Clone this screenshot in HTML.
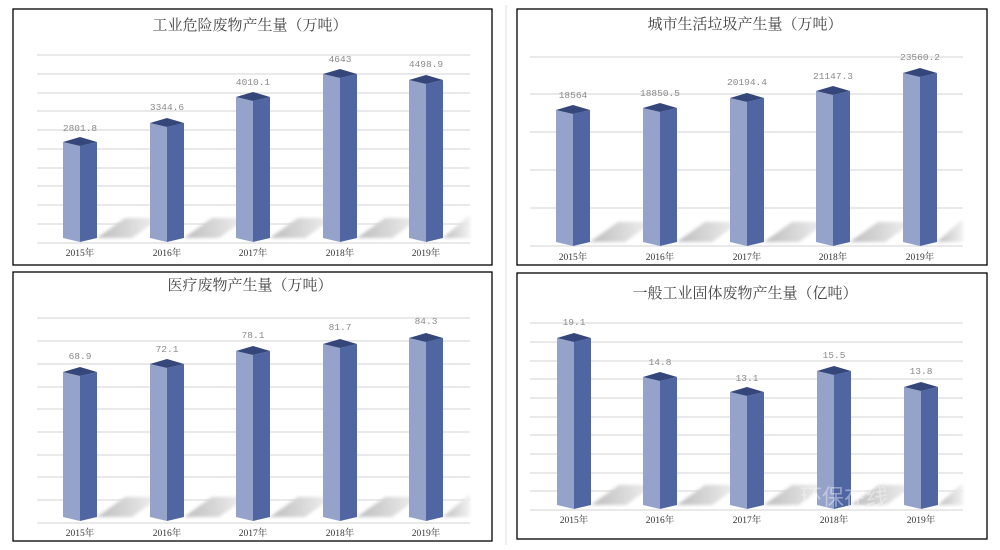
<!DOCTYPE html>
<html><head><meta charset="utf-8"><style>
html,body{margin:0;padding:0;background:#fff;}
svg{display:block;}
.l{fill:#95a3cb}.r{fill:#4f66a3}.t{fill:#34467a}.s{fill:url(#sg);filter:url(#bl)}
.g{stroke:#dcdcdc;stroke-width:1.3;fill:none}
.ti{font-family:"Liberation Serif","Noto Serif CJK SC",serif;font-size:15px;fill:#444;text-anchor:middle}
.v{font-family:"Liberation Mono","Noto Sans CJK SC",monospace;font-size:9.5px;fill:#8a8a8a;text-anchor:middle}
.x{font-family:"Liberation Serif","Noto Serif CJK SC",serif;font-size:9.5px;fill:#333;text-anchor:middle}
.b{fill:none;stroke:#000;stroke-width:1.3}
</style></head><body>
<svg width="1000" height="550" viewBox="0 0 1000 550" xmlns="http://www.w3.org/2000/svg">
<defs><linearGradient id="sg" x1="0" y1="0" x2="1" y2="0"><stop offset="0" stop-color="#bdbdbd"/><stop offset="1" stop-color="#f2f2f2"/></linearGradient>
<filter id="bl" x="-20%" y="-20%" width="140%" height="140%"><feGaussianBlur stdDeviation="1.5"/></filter></defs>
<line x1="506" y1="5" x2="506" y2="545" stroke="#ddd"/>
<rect class="b" x="13" y="9" width="479" height="256"/>
<rect class="b" x="517" y="9" width="470" height="256"/>
<rect class="b" x="13" y="272" width="479" height="269"/>
<rect class="b" x="517" y="273" width="470" height="266"/>

<!-- P1 -->
<text class="ti" x="250" y="30">工业危险废物产生量（万吨）</text>
<path class="g" d="M37 55H470M37 74H470M37 93H470M37 111H470M37 130H470M37 149H470M37 168H470M37 186H470M37 205H470M37 224H470M37 243H470"/>
<polygon class="s" points="97,238 125,218 160,218 132,238"/><polygon class="l" points="63,142 80,146 80,242 63,238"/><polygon class="r" points="80,146 97,142 97,238 80,242"/><polygon class="t" points="63,142 80,137 97,142 80,146"/>
<polygon class="s" points="184,238 212,218 247,218 219,238"/><polygon class="l" points="150,123 167,127 167,242 150,238"/><polygon class="r" points="167,127 184,123 184,238 167,242"/><polygon class="t" points="150,123 167,118 184,123 167,127"/>
<polygon class="s" points="270,238 298,218 333,218 305,238"/><polygon class="l" points="236,97 253,101 253,242 236,238"/><polygon class="r" points="253,101 270,97 270,238 253,242"/><polygon class="t" points="236,97 253,92 270,97 253,101"/>
<polygon class="s" points="357,238 385,218 420,218 392,238"/><polygon class="l" points="323,74 340,78 340,242 323,238"/><polygon class="r" points="340,78 357,74 357,238 340,242"/><polygon class="t" points="323,74 340,69 357,74 340,78"/>
<polygon class="s" points="443,238 470,215 470,238"/><polygon class="l" points="409,80 426,84 426,242 409,238"/><polygon class="r" points="426,84 443,80 443,238 426,242"/><polygon class="t" points="409,80 426,75 443,80 426,84"/>
<text class="v" x="80" y="131">2801.8</text><text class="v" x="167" y="110">3344.6</text><text class="v" x="253" y="85">4010.1</text><text class="v" x="340" y="62">4643</text><text class="v" x="426" y="67">4498.9</text>
<text class="x" x="80" y="256">2015年</text><text class="x" x="167" y="256">2016年</text><text class="x" x="253" y="256">2017年</text><text class="x" x="340" y="256">2018年</text><text class="x" x="426" y="256">2019年</text>

<!-- P2 -->
<text class="ti" x="745" y="29">城市生活垃圾产生量（万吨）</text>
<path class="g" d="M530 57H963M530 94H963M530 132H963M530 170H963M530 208H963M530 246H963"/>
<polygon class="s" points="590,242 618,222 653,222 625,242"/><polygon class="l" points="556,110 573,114 573,246 556,242"/><polygon class="r" points="573,114 590,110 590,242 573,246"/><polygon class="t" points="556,110 573,105 590,110 573,114"/>
<polygon class="s" points="677,242 705,222 740,222 712,242"/><polygon class="l" points="643,108 660,112 660,246 643,242"/><polygon class="r" points="660,112 677,108 677,242 660,246"/><polygon class="t" points="643,108 660,103 677,108 660,112"/>
<polygon class="s" points="764,242 792,222 827,222 799,242"/><polygon class="l" points="730,98 747,102 747,246 730,242"/><polygon class="r" points="747,102 764,98 764,242 747,246"/><polygon class="t" points="730,98 747,93 764,98 747,102"/>
<polygon class="s" points="850,242 878,222 913,222 885,242"/><polygon class="l" points="816,91 833,95 833,246 816,242"/><polygon class="r" points="833,95 850,91 850,242 833,246"/><polygon class="t" points="816,91 833,86 850,91 833,95"/>
<polygon class="s" points="937,242 963,219 963,242"/><polygon class="l" points="903,73 920,77 920,246 903,242"/><polygon class="r" points="920,77 937,73 937,242 920,246"/><polygon class="t" points="903,73 920,68 937,73 920,77"/>
<text class="v" x="573" y="98">18564</text><text class="v" x="660" y="96">18850.5</text><text class="v" x="747" y="85">20194.4</text><text class="v" x="833" y="79">21147.3</text><text class="v" x="920" y="60">23560.2</text>
<text class="x" x="573" y="260">2015年</text><text class="x" x="660" y="260">2016年</text><text class="x" x="747" y="260">2017年</text><text class="x" x="833" y="260">2018年</text><text class="x" x="920" y="260">2019年</text>

<!-- P3 -->
<text class="ti" x="250" y="290">医疗废物产生量（万吨）</text>
<path class="g" d="M37 318H470M37 341H470M37 364H470M37 387H470M37 409H470M37 432H470M37 455H470M37 477H470M37 500H470M37 523H470"/>
<polygon class="s" points="97,517 125,497 160,497 132,517"/><polygon class="l" points="63,372 80,376 80,521 63,517"/><polygon class="r" points="80,376 97,372 97,517 80,521"/><polygon class="t" points="63,372 80,367 97,372 80,376"/>
<polygon class="s" points="184,517 212,497 247,497 219,517"/><polygon class="l" points="150,364 167,368 167,521 150,517"/><polygon class="r" points="167,368 184,364 184,517 167,521"/><polygon class="t" points="150,364 167,359 184,364 167,368"/>
<polygon class="s" points="270,517 298,497 333,497 305,517"/><polygon class="l" points="236,351 253,355 253,521 236,517"/><polygon class="r" points="253,355 270,351 270,517 253,521"/><polygon class="t" points="236,351 253,346 270,351 253,355"/>
<polygon class="s" points="357,517 385,497 420,497 392,517"/><polygon class="l" points="323,344 340,348 340,521 323,517"/><polygon class="r" points="340,348 357,344 357,517 340,521"/><polygon class="t" points="323,344 340,339 357,344 340,348"/>
<polygon class="s" points="443,517 470,494 470,517"/><polygon class="l" points="409,338 426,342 426,521 409,517"/><polygon class="r" points="426,342 443,338 443,517 426,521"/><polygon class="t" points="409,338 426,333 443,338 426,342"/>
<text class="v" x="80" y="359">68.9</text><text class="v" x="167" y="352">72.1</text><text class="v" x="253" y="338">78.1</text><text class="v" x="340" y="330">81.7</text><text class="v" x="426" y="324">84.3</text>
<text class="x" x="80" y="536">2015年</text><text class="x" x="167" y="536">2016年</text><text class="x" x="253" y="536">2017年</text><text class="x" x="340" y="536">2018年</text><text class="x" x="426" y="536">2019年</text>

<!-- P4 -->
<text class="ti" x="745" y="298">一般工业固体废物产生量（亿吨）</text>
<path class="g" d="M530 323H963M530 342H963M530 361H963M530 379H963M530 398H963M530 417H963M530 435H963M530 454H963M530 473H963M530 491H963M530 510H963"/>
<polygon class="s" points="591,505 619,485 654,485 626,505"/><polygon class="l" points="557,338 574,342 574,509 557,505"/><polygon class="r" points="574,342 591,338 591,505 574,509"/><polygon class="t" points="557,338 574,333 591,338 574,342"/>
<polygon class="s" points="677,505 705,485 740,485 712,505"/><polygon class="l" points="643,377 660,381 660,509 643,505"/><polygon class="r" points="660,381 677,377 677,505 660,509"/><polygon class="t" points="643,377 660,372 677,377 660,381"/>
<polygon class="s" points="764,505 792,485 827,485 799,505"/><polygon class="l" points="730,392 747,396 747,509 730,505"/><polygon class="r" points="747,396 764,392 764,505 747,509"/><polygon class="t" points="730,392 747,387 764,392 747,396"/>
<polygon class="s" points="851,505 879,485 914,485 886,505"/><polygon class="l" points="817,371 834,375 834,509 817,505"/><polygon class="r" points="834,375 851,371 851,505 834,509"/><polygon class="t" points="817,371 834,366 851,371 834,375"/>
<polygon class="s" points="938,505 963,483 963,505"/><polygon class="l" points="904,387 921,391 921,509 904,505"/><polygon class="r" points="921,391 938,387 938,505 921,509"/><polygon class="t" points="904,387 921,382 938,387 921,391"/>
<text class="v" x="574" y="325">19.1</text><text class="v" x="660" y="365">14.8</text><text class="v" x="747" y="381">13.1</text><text class="v" x="834" y="358">15.5</text><text class="v" x="921" y="374">13.8</text>
<text class="x" x="574" y="523">2015年</text><text class="x" x="660" y="523">2016年</text><text class="x" x="747" y="523">2017年</text><text class="x" x="834" y="523">2018年</text><text class="x" x="921" y="523">2019年</text>
<text x="800" y="505" font-family="Liberation Sans,'Noto Sans CJK SC',sans-serif" font-size="22" fill="#ffffff" fill-opacity="0.4">环保在线</text>
</svg>
</body></html>
